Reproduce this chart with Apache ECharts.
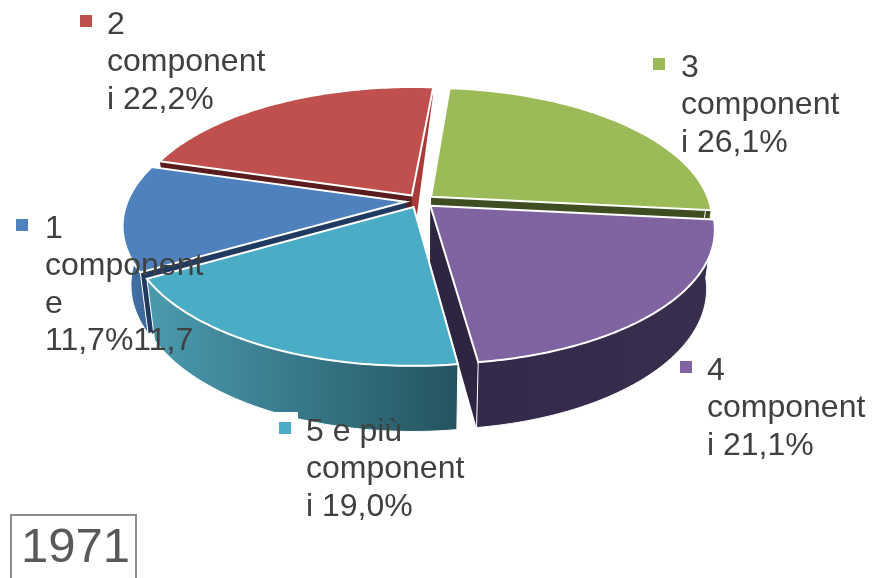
<!DOCTYPE html>
<html>
<head>
<meta charset="utf-8">
<title>1971</title>
<script src="https://cdn.jsdelivr.net/npm/echarts@6/dist/echarts.min.js"></script>
<style>
  html, body { margin: 0; padding: 0; background: #fff; overflow: hidden; }
  #chart { width: 873px; height: 578px; filter: blur(0.4px); }
</style>
</head>
<body>
<div id="chart"></div>
<script>
// Percentuali, in senso orario dall'alto
const categories = ["3 componenti", "4 componenti", "5 e più componenti", "1 componente", "2 componenti"];
const shares = [26.1, 21.1, 19.0, 11.7, 22.2];
const sliceLabels = [
  "3\ncomponent\ni 26,1%",
  "4\ncomponent\ni 21,1%",
  "5 e più\ncomponent\ni 19,0%",
  "1\ncomponent\ne\n11,7%11,7",
  "2\ncomponent\ni 22,2%"
];
const yearLabel = "1971";

// Stile per fetta, stesso ordine di categories
const topColors = ["#9bbb59", "#8064a2", "#4bacc6", "#4f81bd", "#c0504d"];
const startFaceColors = ["#a8c95f", "#2e2542", "#2a6070", "#203a62", "#5a1c1c"];
const endFaceColors = ["#3f4e20", "#2e2542", "#2a6070", "#203a62", "#a83a38"];
const wallFrom = ["#3f4e20", "#33294a", "#4a9bb0", "#4373a8", "#7a3230"];
const wallTo = ["#3f4e20", "#3a2e4e", "#24545f", "#3c6898", "#7a3230"];
const labelAnchors = [[653, 681, 66], [680, 707, 369], [279, 306, 430], [16, 45, 227], [80, 107, 23]];
const drawOrder = [4, 0, 3, 1, 2]; // dal fondo verso chi guarda

// Vista prospettica del disco
const view = {
  cx: 420, cy: 201, rx: 278, ry: 129, k: 0.173,
  depth: 57.5, backCut: 0.85, bottomScale: 0.972,
  explode: 0.052, startDeg: 3
};
// la vista 3D di Excel sposta un po' i bordi delle fette (gradi, bordo iniziale di ogni fetta)
const edgeNudge = [1.9, -0.9, -0.5, -1, 3.2];
const RAD = Math.PI / 180;
const total = shares.reduce((a, b) => a + b, 0);

function project(u, v, low) {
  const den = 1 + view.k * v;
  const s = low ? view.bottomScale : 1;
  const drop = low ? view.depth * (1 - view.backCut * Math.max(v, 0)) / den : 0;
  return [
    view.cx + view.rx * s * u / den,
    view.cy - view.ry * s * v / den + drop
  ];
}

let cursor = view.startDeg;
const angles = shares.map((val, i) => {
  const from = cursor + edgeNudge[i];
  cursor += val / total * 360;
  return [from, cursor + edgeNudge[(i + 1) % shares.length]];
});

function rimPoint(i, deg, low) {
  const mid = (angles[i][0] + angles[i][1]) / 2 * RAD;
  const ox = view.explode * Math.sin(mid);
  const oy = view.explode * Math.cos(mid);
  return project(ox + Math.sin(deg * RAD), oy + Math.cos(deg * RAD), low);
}

function apexPoint(i, low) {
  const mid = (angles[i][0] + angles[i][1]) / 2 * RAD;
  return project(view.explode * Math.sin(mid), view.explode * Math.cos(mid), low);
}

function renderSlice(params) {
  const i = params.dataIndex;
  const [a0, a1] = angles[i];
  const z = drawOrder.indexOf(i) * 10;
  const topPts = [apexPoint(i, false)];
  for (let d = a0; d < a1; d += 1) topPts.push(rimPoint(i, d, false));
  topPts.push(rimPoint(i, a1, false));

  const kids = [];
  const face = (deg, fill) => ({
    type: "polygon",
    z2: z,
    shape: { points: [apexPoint(i, false), rimPoint(i, deg, false), rimPoint(i, deg, true), apexPoint(i, true)] },
    style: { fill: fill }
  });
  kids.push(face(a0, startFaceColors[i]));
  kids.push(face(a1, endFaceColors[i]));

  // parete esterna solo dove guarda verso chi osserva
  const w0 = Math.max(a0, 90);
  const w1 = Math.min(a1, 272);
  if (w1 > w0) {
    const up = [];
    const down = [];
    for (let d = w0; d < w1; d += 1) {
      up.push(rimPoint(i, d, false));
      down.unshift(rimPoint(i, d, true));
    }
    up.push(rimPoint(i, w1, false));
    down.unshift(rimPoint(i, w1, true));
    kids.push({
      type: "polygon",
      z2: z + 1,
      shape: { points: up.concat(down) },
      style: {
        fill: new echarts.graphic.LinearGradient(0, 0, 1, 0, [
          { offset: 0, color: wallFrom[i] },
          { offset: 1, color: wallTo[i] }
        ]),
        stroke: "#ffffff",
        lineWidth: 1
      }
    });
  }

  kids.push({
    type: "polygon",
    z2: z + 2,
    shape: { points: topPts },
    style: { fill: topColors[i], stroke: "#ffffff", lineWidth: 2, lineJoin: "miter" }
  });
  return { type: "group", children: kids };
}

const graphics = [];
// fondo bianco dell'etichetta che taglia la parete della fetta 5 e più
graphics.push({
  type: "rect", z: 9,
  shape: { x: 262, y: 412, width: 36, height: 30 },
  style: { fill: "#ffffff" }
});
sliceLabels.forEach((text, i) => {
  const [keyX, textX, midY] = labelAnchors[i];
  graphics.push({
    type: "rect", z: 10,
    shape: { x: keyX, y: midY - 8, width: 12, height: 12 },
    style: { fill: topColors[i] }
  });
  graphics.push({
    type: "text", z: 11, x: textX, y: midY - 17,
    style: { text: text, font: "32px 'Liberation Sans'", lineHeight: 37.5, fill: "#404040" }
  });
});
graphics.push({
  type: "rect", z: 10,
  shape: { x: 11, y: 515, width: 125, height: 80 },
  style: { fill: "#ffffff", stroke: "#8c8c8c", lineWidth: 2 }
});
graphics.push({
  type: "text", z: 11, x: 21, y: 524,
  style: { text: yearLabel, font: "49px 'Liberation Sans'", fill: "#595959" }
});

const chart = echarts.init(document.getElementById("chart"), null, { renderer: "canvas" });
chart.setOption({
  animation: false,
  backgroundColor: "#ffffff",
  graphic: graphics,
  series: [{
    type: "custom",
    coordinateSystem: "none",
    renderItem: renderSlice,
    silent: true,
    data: categories.map((name, i) => ({ name: name, value: shares[i] }))
  }]
});
</script>
</body>
</html>
